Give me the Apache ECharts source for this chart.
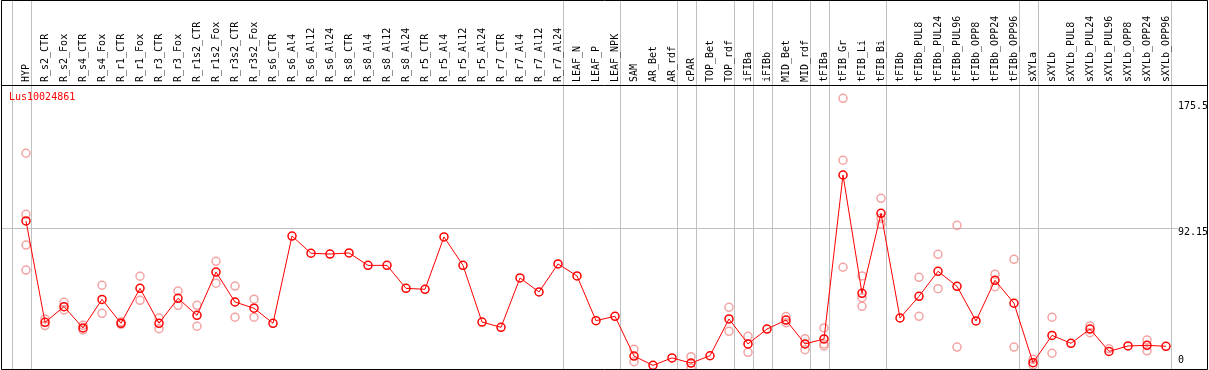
<!DOCTYPE html>
<html>
<head>
<meta charset="utf-8">
<script src="https://cdn.jsdelivr.net/npm/echarts@6/dist/echarts.min.js"></script>
<style>
html,body{margin:0;padding:0;background:#fff}
#eChart{width:1209px;height:370px}
</style>
</head>
<body>
<div id="eChart"></div>
<script>
var geneName = 'Lus10024861';
var categories = ['HYP','R_s2_CTR','R_s2_Fox','R_s4_CTR','R_s4_Fox','R_r1_CTR','R_r1_Fox','R_r3_CTR','R_r3_Fox',
    'R_r1s2_CTR','R_r1s2_Fox','R_r3s2_CTR','R_r3s2_Fox','R_s6_CTR','R_s6_Al4','R_s6_Al12','R_s6_Al24',
    'R_s8_CTR','R_s8_Al4','R_s8_Al12','R_s8_Al24','R_r5_CTR','R_r5_Al4','R_r5_Al12','R_r5_Al24',
    'R_r7_CTR','R_r7_Al4','R_r7_Al12','R_r7_Al24','LEAF_N','LEAF_P','LEAF_NPK','SAM','AR_Bet','AR_rdf',
    'cPAR','TOP_Bet','TOP_rdf','iFIBa','iFIBb','MID_Bet','MID_rdf','tFIBa','tFIB_Gr','tFIB_Li','tFIB_Bi',
    'tFIBb','tFIBb_PUL8','tFIBb_PUL24','tFIBb_PUL96','tFIBb_OPP8','tFIBb_OPP24','tFIBb_OPP96',
    'sXYLa','sXYLb','sXYLb_PUL8','sXYLb_PUL24','sXYLb_PUL96','sXYLb_OPP8','sXYLb_OPP24','sXYLb_OPP96'];
// mean per sample
var means = [96.5, 31.2, 41.3, 27.6, 46.0, 30.6, 53.1, 30.6, 46.7, 35.7, 63.6, 44.3, 40.3, 30.6, 86.8,
    75.7, 75.2, 75.9, 67.9, 67.9, 53.1, 52.5, 86.2, 67.9, 31.4, 28.0, 59.8, 50.8, 68.8, 61.1, 32.3,
    35.1, 9.5, 3.5, 8.3, 5.0, 9.7, 33.4, 17.3, 26.9, 32.7, 17.3, 20.5, 126.1, 49.9, 101.4, 34.0,
    48.0, 64.1, 54.4, 32.1, 58.3, 43.5, 5.2, 22.8, 17.7, 26.9, 12.5, 16.0, 16.4, 15.8];
// replicates (only the ones that can be seen)
var replicates = [[140.1, 100.8, 81.0, 64.9], [33.4, 29.1], [44.1, 39.2], [29.3, 26.3], [55.1, 37.0],
    [31.6, 29.9], [60.9, 45.4], [34.0, 27.1], [51.4, 42.2], [42.2, 28.7], [70.5, 56.4], [54.6, 34.5],
    [46.1, 34.5], [], [], [], [], [], [], [], [], [], [], [], [], [], [], [], [], [], [], [],
    [13.8, 5.9], [], [], [9.1, 1.8], [], [40.9, 25.4], [22.2, 11.9], [], [34.9, 31.0], [20.7, 13.6],
    [27.6, 17.3, 16.0], [175.5, 135.6, 66.7], [61.1, 47.1, 41.5], [111.1, 98.2, 94.4], [],
    [60.2, 35.1], [75.0, 52.9], [93.7, 15.3], [], [62.2, 54.2], [71.8, 15.3], [7.4, 3.7],
    [34.5, 11.3], [], [28.9, 24.5], [14.2], [], [19.8, 12.9], []];
var yTicks = [0, 92.15, 175.5];
// index of the last sample of each group (-1 = left edge)
var groupEnds = [-1, 0, 28, 31, 34, 35, 37, 38, 39, 41, 42, 45, 52, 53, 60];

var FONT = '"DejaVu Sans Mono", monospace';
var myChart = echarts.init(document.getElementById('eChart'));

var repPoints = [];
for (var i = 0; i < replicates.length; i++) {
    for (var j = 0; j < replicates[i].length; j++) {
        repPoints.push([i, replicates[i][j]]);
    }
}

var option = {
    animation: false,
    backgroundColor: '#fff',
    grid: {
        left: 16.5,
        width: 1159,
        top: 98.3,
        height: 272.5,
        containLabel: false,
        outerBoundsMode: 'none'
    },
    xAxis: {
        type: 'category',
        data: categories,
        position: 'top',
        offset: 13.3,
        boundaryGap: true,
        axisLine: {show: false},
        axisTick: {show: false},
        splitLine: {show: false},
        axisLabel: {
            interval: 0,
            rotate: 90,
            margin: 3,
            color: '#000',
            fontFamily: FONT,
            fontSize: 10
        }
    },
    yAxis: {
        type: 'value',
        min: 0,
        max: 175.5,
        show: false
    },
    series: [
        {
            name: 'replicates',
            type: 'scatter',
            data: repPoints,
            symbol: 'circle',
            symbolSize: 8,
            silent: true,
            z: 2,
            itemStyle: {color: 'transparent', borderColor: '#f08c8c', borderWidth: 1.5}
        },
        {
            name: 'mean',
            type: 'line',
            data: means,
            symbol: 'circle',
            symbolSize: 8,
            silent: true,
            z: 3,
            lineStyle: {color: '#ff0000', width: 1},
            itemStyle: {color: 'transparent', borderColor: '#ff0000', borderWidth: 1.5}
        }
    ]
};
myChart.setOption(option);

// separators, mid gridline, y labels, frame
var px0 = myChart.convertToPixel({xAxisIndex: 0}, 0);
var step = myChart.convertToPixel({xAxisIndex: 0}, 1) - px0;
var graphics = [];
groupEnds.forEach(function (g) {
    var x = Math.round(px0 + (g + 0.25) * step) + 0.5;
    graphics.push({
        type: 'line', z: 0, silent: true,
        shape: {x1: x, y1: 0, x2: x, y2: 369},
        style: {stroke: '#c0c0c0', lineWidth: 1}
    });
});
var yMid = Math.round(myChart.convertToPixel({yAxisIndex: 0}, yTicks[1])) + 0.5;
graphics.push({
    type: 'line', z: 0, silent: true,
    shape: {x1: 1, y1: yMid, x2: 1178, y2: yMid},
    style: {stroke: '#c0c0c0', lineWidth: 1}
});
yTicks.forEach(function (t) {
    var y = myChart.convertToPixel({yAxisIndex: 0}, t);
    var top = t === 0 ? y - 15 : (t === yTicks[2] ? y + 3 : y);
    graphics.push({
        type: 'text', z: 10, silent: true,
        x: 1178, y: top,
        style: {text: String(t), fill: '#000', font: '10px ' + FONT, textVerticalAlign: 'top'}
    });
});
graphics.push({
    type: 'text', z: 10, silent: true,
    x: 9, y: 92,
    style: {text: geneName, fill: '#ff0000', font: '10px ' + FONT, textVerticalAlign: 'top'}
});
graphics.push({
    type: 'rect', z: 20, silent: true,
    shape: {x: 1.5, y: 0.5, width: 1206, height: 369},
    style: {stroke: '#000', fill: 'none', lineWidth: 1}
});
graphics.push({
    type: 'line', z: 20, silent: true,
    shape: {x1: 1, y1: 85.5, x2: 1208, y2: 85.5},
    style: {stroke: '#000', lineWidth: 1}
});
myChart.setOption({graphic: graphics});
</script>
</body>
</html>
